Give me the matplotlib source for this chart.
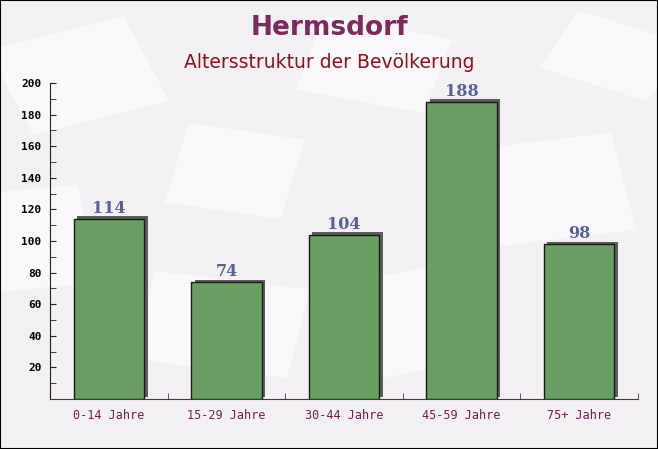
import matplotlib
matplotlib.use('Agg')
import matplotlib.pyplot as plt
import matplotlib.transforms as mtransforms
from matplotlib.patches import Rectangle
import numpy as np

# ── Daten ─────────────────────────────────────────────────────────────────────
categories = ['0-14 Jahre', '15-29 Jahre', '30-44 Jahre', '45-59 Jahre', '75+ Jahre']
values     = [114, 74, 104, 188, 98]

title    = 'Hermsdorf'
subtitle = 'Altersstruktur der Bevölkerung'

BG       = '#f3f0f3'
BAR      = '#6a9f64'
SHADOW   = '#5c5c5c'
VAL_COL  = '#56618f'
XT_COL   = '#6b2050'

fig = plt.figure(figsize=(6.58, 4.49), dpi=100, facecolor=BG)

# faint envelope-like shapes in the background
bg = fig.add_axes([0, 0, 1, 1], zorder=-1)
bg.set_axis_off()
bg.set_xlim(0, 1); bg.set_ylim(0, 1)
bg_shapes = [(0.05, 0.70, 0.22, 0.20, 20), (0.45, 0.80, 0.20, 0.17, -15),
             (0.75, 0.45, 0.22, 0.22, 10), (0.20, 0.20, 0.24, 0.20, -10),
             (0.55, 0.15, 0.22, 0.22, 15), (0.82, 0.85, 0.18, 0.14, -25),
             (0.00, 0.35, 0.15, 0.22, 8), (0.25, 0.55, 0.18, 0.18, -12)]
for x0, y0, w, h, ang in bg_shapes:
    bg.add_patch(Rectangle((x0, y0), w, h, angle=ang, facecolor='white',
                           alpha=0.5, edgecolor='none'))

ax = fig.add_axes([50/658, 1-399/449, 588/658, 316/449])
ax.set_facecolor('none')

x = np.arange(len(categories))
shadow_tr = mtransforms.offset_copy(ax.transData, fig=fig, x=3.5, y=2.5, units='dots')
ax.bar(x, values, width=0.6, color=SHADOW, transform=shadow_tr, zorder=2)
ax.bar(x, values, width=0.6, color=BAR, edgecolor='#1a1a1a', linewidth=1.0, zorder=3)

for xi, v in zip(x, values):
    ax.annotate(str(v), (xi, v), xytext=(0, 1.5), textcoords='offset points',
                ha='center', va='bottom', fontsize=11.5, fontweight='bold',
                family='DejaVu Serif', color=VAL_COL, zorder=4)

ax.set_xlim(-0.5, len(categories) - 0.5)
ax.set_ylim(0, 200)
ax.set_xticks(x)
ax.set_xticklabels(categories, family='DejaVu Sans Mono', fontsize=8.5, color=XT_COL)
ax.set_xticks(np.arange(len(categories)) + 0.5, minor=True)
ax.tick_params(axis='x', which='major', length=0, pad=7)
ax.tick_params(axis='x', which='minor', direction='in', length=4, color=XT_COL)
ax.set_yticks(np.arange(20, 201, 20))
ax.set_yticks(np.arange(10, 200, 20), minor=True)
ax.tick_params(axis='y', which='both', direction='in', length=4, color='#222222', labelsize=8, pad=6)
for t in ax.get_yticklabels():
    t.set_family('DejaVu Sans Mono'); t.set_fontweight('bold')

for s in ['top', 'right']:
    ax.spines[s].set_visible(False)
ax.spines['left'].set_color('#222222')
ax.spines['bottom'].set_color(XT_COL)

fig.text(0.5, 1-28/449, title, ha='center', va='center', fontsize=19, fontweight='bold', color='#7a2a5c')
fig.text(0.5, 1-62/449, subtitle, ha='center', va='center', fontsize=13.5, color='#8b1020')

fig.patches.append(Rectangle((0, 0), 1, 1, transform=fig.transFigure, fill=False,
                             edgecolor='black', linewidth=1.5, zorder=10))

fig.savefig('out.png', dpi=100, facecolor=BG)
